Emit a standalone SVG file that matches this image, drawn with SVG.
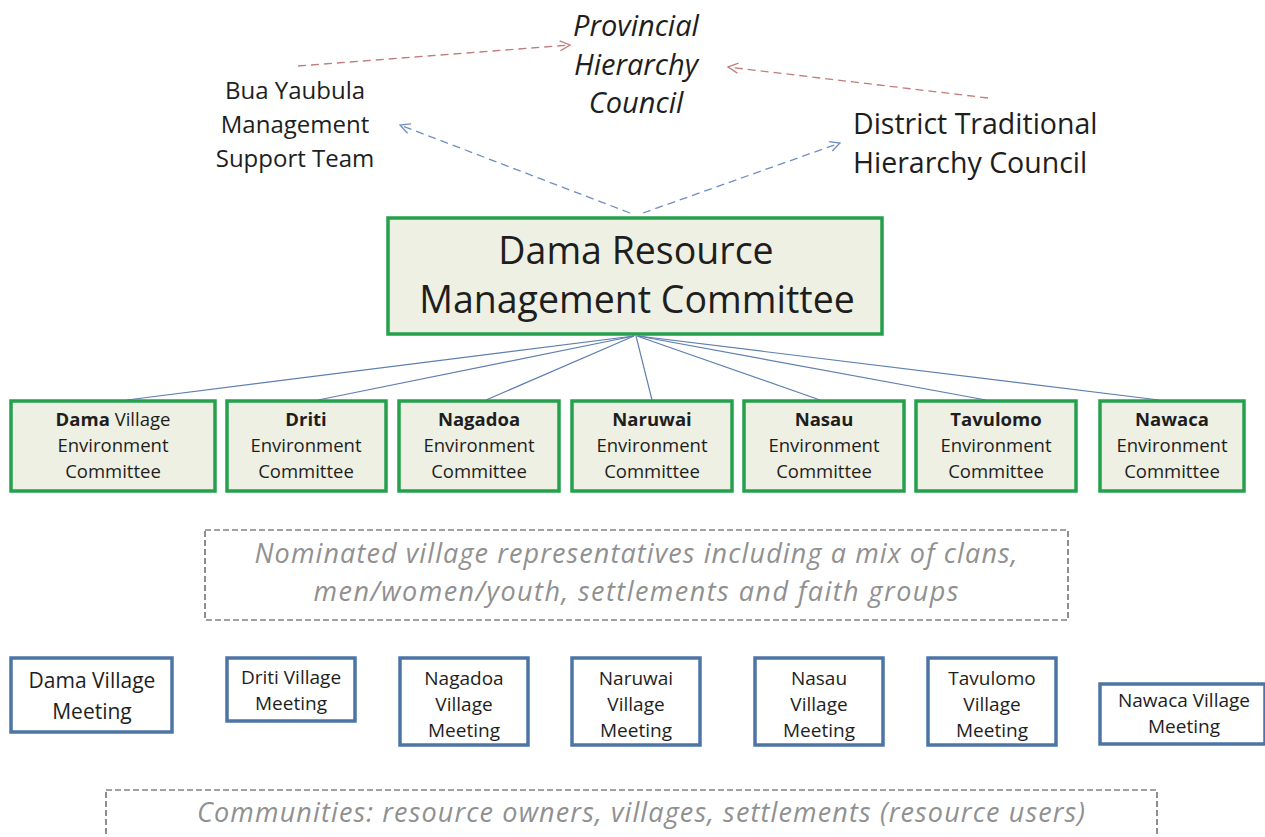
<svg xmlns="http://www.w3.org/2000/svg" width="1265" height="837" viewBox="0 0 1265 837">
  <defs>
    <marker id="openArrowRed" viewBox="0 0 12 12" refX="11" refY="6" markerWidth="12" markerHeight="12" markerUnits="userSpaceOnUse" orient="auto">
      <path d="M1,1 L11,6 L1,11" fill="none" stroke="#c07d7b" stroke-width="1.3"/>
    </marker>
    <marker id="openArrowBlue" viewBox="0 0 12 12" refX="11" refY="6" markerWidth="12" markerHeight="12" markerUnits="userSpaceOnUse" orient="auto">
      <path d="M1,1 L11,6 L1,11" fill="none" stroke="#6f8fc0" stroke-width="1.3"/>
    </marker>
    <style>
      text { font-family: "Open Sans", "Noto Sans", "Liberation Sans", sans-serif; fill: #1e1e1e; }
      .top { font-size: 24px; text-anchor: middle; }
      .prov { font-size: 29px; font-style: italic; text-anchor: middle; }
      .dist { font-size: 28.5px; }
      .main-box { fill: #eef0e3; stroke: #25a04d; stroke-width: 3.5; }
      .main-text { font-size: 37.5px; text-anchor: middle; }
      .env-box { fill: #eef0e3; stroke: #25a04d; stroke-width: 3.5; }
      .env-text { font-size: 18.5px; text-anchor: middle; }
      .bold { font-weight: bold; }
      .meet-box { fill: #ffffff; stroke: #4d74a6; stroke-width: 3.5; }
      .meet-text { font-size: 19px; text-anchor: middle; }
      .note-box { fill: none; stroke: #444444; stroke-width: 1.2; stroke-dasharray: 6 3; }
      .note-text { font-size: 27px; font-style: italic; fill: #909090; text-anchor: middle; }
      .link { stroke: #5e7fb0; stroke-width: 1.2; fill: none; }
      .dash-red { stroke: #c07d7b; stroke-width: 1.3; stroke-dasharray: 8 5; fill: none; }
      .dash-blue { stroke: #6f8fc0; stroke-width: 1.3; stroke-dasharray: 8 5; fill: none; }
    </style>
  </defs>

  <rect width="1265" height="837" fill="#ffffff"/>

  <!-- Connectors -->
  <g id="connectors">
    <line class="dash-red" x1="298" y1="66" x2="570" y2="45" marker-end="url(#openArrowRed)"/>
    <line class="dash-red" x1="988" y1="98" x2="728" y2="67" marker-end="url(#openArrowRed)"/>
    <line class="dash-blue" x1="630" y1="213" x2="400" y2="125" marker-end="url(#openArrowBlue)"/>
    <line class="dash-blue" x1="643" y1="213" x2="840" y2="143" marker-end="url(#openArrowBlue)"/>
    <line class="link" x1="634" y1="336" x2="127" y2="400"/>
    <line class="link" x1="634" y1="336" x2="318" y2="400"/>
    <line class="link" x1="634" y1="336" x2="486" y2="400"/>
    <line class="link" x1="636" y1="336" x2="652" y2="400"/>
    <line class="link" x1="637" y1="336" x2="820" y2="400"/>
    <line class="link" x1="638" y1="336" x2="986" y2="400"/>
    <line class="link" x1="638" y1="336" x2="1159" y2="400"/>
  </g>

  <!-- Upper councils -->
  <g id="provincial-council">
    <text class="prov" x="636" y="36">Provincial</text>
    <text class="prov" x="636" y="75">Hierarchy</text>
    <text class="prov" x="636" y="113">Council</text>
  </g>
  <g id="support-team">
    <text class="top" x="295" y="99">Bua Yaubula</text>
    <text class="top" x="295" y="133">Management</text>
    <text class="top" x="295" y="167">Support Team</text>
  </g>
  <g id="district-council">
    <text class="dist" x="853" y="134">District Traditional</text>
    <text class="dist" x="853" y="173">Hierarchy Council</text>
  </g>

  <!-- Resource management committee -->
  <g id="resource-committee">
    <rect class="main-box" x="388" y="218" width="494" height="116"/>
    <text class="main-text" x="636" y="264">Dama Resource</text>
    <text class="main-text" x="637" y="313">Management Committee</text>
  </g>

  <!-- Environment committees -->
  <g id="env-dama">
    <rect class="env-box" x="11" y="401" width="204" height="90"/>
    <text class="env-text" x="113" y="426"><tspan class="bold">Dama</tspan> Village</text>
    <text class="env-text" x="113" y="452">Environment</text>
    <text class="env-text" x="113" y="478">Committee</text>
  </g>
  <g id="env-driti">
    <rect class="env-box" x="227" y="401" width="159" height="90"/>
    <text class="env-text bold" x="306" y="426">Driti</text>
    <text class="env-text" x="306" y="452">Environment</text>
    <text class="env-text" x="306" y="478">Committee</text>
  </g>
  <g id="env-nagadoa">
    <rect class="env-box" x="399" y="401" width="160" height="90"/>
    <text class="env-text bold" x="479" y="426">Nagadoa</text>
    <text class="env-text" x="479" y="452">Environment</text>
    <text class="env-text" x="479" y="478">Committee</text>
  </g>
  <g id="env-naruwai">
    <rect class="env-box" x="572" y="401" width="160" height="90"/>
    <text class="env-text bold" x="652" y="426">Naruwai</text>
    <text class="env-text" x="652" y="452">Environment</text>
    <text class="env-text" x="652" y="478">Committee</text>
  </g>
  <g id="env-nasau">
    <rect class="env-box" x="744" y="401" width="160" height="90"/>
    <text class="env-text bold" x="824" y="426">Nasau</text>
    <text class="env-text" x="824" y="452">Environment</text>
    <text class="env-text" x="824" y="478">Committee</text>
  </g>
  <g id="env-tavulomo">
    <rect class="env-box" x="916" y="401" width="160" height="90"/>
    <text class="env-text bold" x="996" y="426">Tavulomo</text>
    <text class="env-text" x="996" y="452">Environment</text>
    <text class="env-text" x="996" y="478">Committee</text>
  </g>
  <g id="env-nawaca">
    <rect class="env-box" x="1100" y="401" width="144" height="90"/>
    <text class="env-text bold" x="1172" y="426">Nawaca</text>
    <text class="env-text" x="1172" y="452">Environment</text>
    <text class="env-text" x="1172" y="478">Committee</text>
  </g>

  <!-- Representatives note -->
  <g id="representatives-note">
    <rect class="note-box" x="205" y="530" width="863" height="90"/>
    <text class="note-text" x="636" y="563" textLength="763" lengthAdjust="spacing">Nominated village representatives including a mix of clans,</text>
    <text class="note-text" x="636" y="601" textLength="645" lengthAdjust="spacing">men/women/youth, settlements and faith groups</text>
  </g>

  <!-- Village meetings -->
  <g id="meet-dama">
    <rect class="meet-box" x="11" y="658" width="161" height="74"/>
    <text class="meet-text" x="92" y="688" style="font-size:21px">Dama Village</text>
    <text class="meet-text" x="92" y="719" style="font-size:21px">Meeting</text>
  </g>
  <g id="meet-driti">
    <rect class="meet-box" x="227" y="658" width="128" height="63"/>
    <text class="meet-text" x="291" y="684">Driti Village</text>
    <text class="meet-text" x="291" y="710">Meeting</text>
  </g>
  <g id="meet-nagadoa">
    <rect class="meet-box" x="400" y="658" width="128" height="87"/>
    <text class="meet-text" x="464" y="685">Nagadoa</text>
    <text class="meet-text" x="464" y="711">Village</text>
    <text class="meet-text" x="464" y="737">Meeting</text>
  </g>
  <g id="meet-naruwai">
    <rect class="meet-box" x="572" y="658" width="128" height="87"/>
    <text class="meet-text" x="636" y="685">Naruwai</text>
    <text class="meet-text" x="636" y="711">Village</text>
    <text class="meet-text" x="636" y="737">Meeting</text>
  </g>
  <g id="meet-nasau">
    <rect class="meet-box" x="755" y="658" width="128" height="87"/>
    <text class="meet-text" x="819" y="685">Nasau</text>
    <text class="meet-text" x="819" y="711">Village</text>
    <text class="meet-text" x="819" y="737">Meeting</text>
  </g>
  <g id="meet-tavulomo">
    <rect class="meet-box" x="928" y="658" width="128" height="87"/>
    <text class="meet-text" x="992" y="685">Tavulomo</text>
    <text class="meet-text" x="992" y="711">Village</text>
    <text class="meet-text" x="992" y="737">Meeting</text>
  </g>
  <g id="meet-nawaca">
    <rect class="meet-box" x="1100" y="684" width="165" height="60"/>
    <text class="meet-text" x="1184" y="707">Nawaca Village</text>
    <text class="meet-text" x="1184" y="733">Meeting</text>
  </g>

  <!-- Communities note -->
  <g id="communities-note">
    <rect class="note-box" x="106" y="790" width="1051" height="60"/>
    <text class="note-text" x="641" y="822" textLength="888" lengthAdjust="spacing">Communities: resource owners, villages, settlements (resource users)</text>
  </g>
</svg>
